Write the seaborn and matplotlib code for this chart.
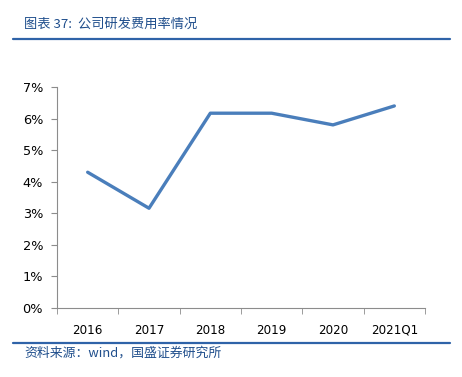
import matplotlib
matplotlib.use("Agg")
import matplotlib.pyplot as plt
import seaborn as sns
import pandas as pd
from matplotlib.ticker import FixedLocator, PercentFormatter

# data
periods = ["2016", "2017", "2018", "2019", "2020", "2021Q1"]
rd_ratio = [4.30, 3.16, 6.17, 6.17, 5.80, 6.40]

df = pd.DataFrame({"period": periods, "ratio": rd_ratio})

sns.set_style("white")
plt.rcParams['font.family'] = ['Noto Sans CJK SC', 'DejaVu Sans']

fig = plt.figure(figsize=(4.62, 3.77), dpi=100)
ax = fig.add_axes([57 / 462, 1 - 308 / 377, 368 / 462, 221 / 377])

sns.lineplot(data=df, x="period", y="ratio", ax=ax, color="#4a7ebb", linewidth=2.4, sort=False)

ax.set_xlim(-0.5, len(periods) - 0.5)
ax.set_ylim(0, 7)
ax.set_yticks(range(0, 8))
ax.yaxis.set_major_formatter(PercentFormatter(decimals=0))
ax.set_xlabel("")
ax.set_ylabel("")

for s in ["top", "right"]:
    ax.spines[s].set_visible(False)
for s in ["left", "bottom"]:
    ax.spines[s].set_color("#8c8c8c")
    ax.spines[s].set_linewidth(0.8)

ax.tick_params(axis="y", which="major", left=True, length=4, color="#8c8c8c",
               labelsize=9.3, pad=6, labelcolor="black")
ax.tick_params(axis="x", which="major", bottom=False, labelsize=8.6, pad=8, labelcolor="black")
ax.xaxis.set_minor_locator(FixedLocator([i + 0.5 for i in range(-1, len(periods))]))
ax.tick_params(axis="x", which="minor", bottom=True, length=4, color="#8c8c8c")
for lbl in ax.get_xticklabels() + ax.get_yticklabels():
    lbl.set_family("DejaVu Sans")

# header / footer
blue = "#2f63a8"
fig.add_artist(plt.Line2D([13 / 462, 450 / 462], [1 - 39 / 377] * 2, color=blue, linewidth=1.6))
fig.add_artist(plt.Line2D([13 / 462, 450 / 462], [1 - 343 / 377] * 2, color=blue, linewidth=1.6))
fig.text(24 / 462, 1 - 24 / 377, "图表 37:  公司研发费用率情况", color="#1f4e8c",
         fontsize=9.5, style="italic", va="center", ha="left")
fig.text(24 / 462, 1 - 353 / 377, "资料来源：wind，国盛证券研究所", color="#1f4e8c",
         fontsize=9.3, style="italic", va="center", ha="left")

fig.savefig("out.png", dpi=100)
